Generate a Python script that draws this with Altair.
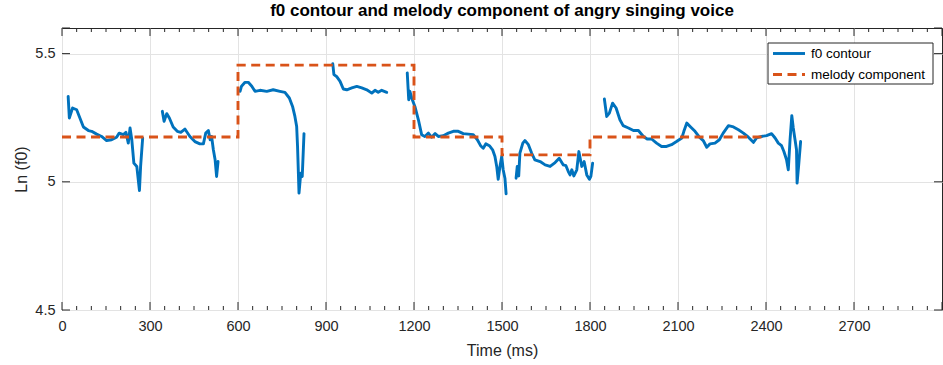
import altair as alt
import pandas as pd

# f0 contour, one list pair per voiced segment (time in ms, ln f0)
seg1_t = [21, 25, 36, 50, 59, 73, 90, 101, 118, 135, 152, 169, 186, 195, 209, 218, 226, 232, 238, 245, 255, 264, 268, 275]
seg1_v = [5.333, 5.249, 5.288, 5.281, 5.255, 5.214, 5.200, 5.197, 5.186, 5.177, 5.161, 5.164, 5.174, 5.190, 5.184, 5.193,
          5.151, 5.210, 5.164, 5.073, 5.060, 4.966, 5.060, 5.171]
seg2_t = [342, 348, 357, 366, 379, 393, 405, 419, 436, 453, 470, 482, 490, 499, 505, 510, 516, 522, 527, 532]
seg2_v = [5.275, 5.236, 5.266, 5.249, 5.214, 5.197, 5.193, 5.206, 5.177, 5.157, 5.148, 5.148, 5.190, 5.200, 5.164, 5.177,
          5.125, 5.086, 5.021, 5.079]
seg3_t = [607, 612, 624, 635, 647, 658, 675, 698, 720, 743, 760, 775, 786, 794, 800, 803, 808, 814, 819, 825]
seg3_v = [5.353, 5.373, 5.388, 5.388, 5.373, 5.353, 5.357, 5.353, 5.359, 5.353, 5.349, 5.327, 5.294, 5.255, 5.216, 5.138,
          4.956, 5.034, 5.021, 5.188]
seg4_t = [923, 927, 936, 948, 959, 971, 988, 1005, 1022, 1039, 1056, 1067, 1078, 1090, 1107]
seg4_v = [5.461, 5.418, 5.411, 5.392, 5.362, 5.359, 5.366, 5.372, 5.366, 5.359, 5.346, 5.357, 5.349, 5.357, 5.349]
seg5_t = [1177, 1182, 1186, 1192, 1203, 1215, 1226, 1237, 1249, 1260, 1272, 1283, 1300, 1317, 1334, 1351, 1368, 1385,
          1402, 1416, 1427, 1436, 1445, 1457, 1468, 1476, 1482, 1487, 1493, 1499, 1504, 1510, 1514]
seg5_v = [5.425, 5.320, 5.353, 5.327, 5.294, 5.242, 5.184, 5.177, 5.190, 5.174, 5.188, 5.177, 5.180, 5.190, 5.197, 5.197,
          5.188, 5.186, 5.184, 5.164, 5.141, 5.131, 5.148, 5.141, 5.125, 5.099, 5.060, 5.010, 5.060, 5.099, 5.047, 5.014, 4.953]
seg6_t = [1548, 1552, 1557, 1561, 1571, 1578, 1590, 1601, 1612, 1630, 1647, 1664, 1681, 1695, 1709, 1718, 1726, 1732,
          1738, 1745, 1755, 1762, 1772, 1780, 1789, 1798, 1803, 1809]
seg6_v = [5.014, 5.060, 5.023, 5.112, 5.151, 5.161, 5.145, 5.112, 5.086, 5.079, 5.066, 5.060, 5.075, 5.092, 5.066, 5.063,
          5.040, 5.027, 5.047, 5.023, 5.047, 5.118, 5.060, 5.079, 5.027, 5.010, 5.021, 5.073]
seg7_t = [1849, 1857, 1866, 1877, 1889, 1902, 1913, 1931, 1948, 1965, 1982, 1995, 2010, 2027, 2044, 2061, 2078, 2095,
          2113, 2120, 2130, 2143, 2158, 2173, 2186, 2198, 2209, 2226, 2241, 2254, 2272, 2289, 2306, 2323, 2340, 2357,
          2368, 2385, 2402, 2419, 2431, 2442, 2453, 2461, 2470, 2476, 2482, 2488, 2493, 2499, 2504, 2506, 2512, 2518]
seg7_v = [5.323, 5.255, 5.268, 5.307, 5.288, 5.242, 5.219, 5.210, 5.200, 5.200, 5.177, 5.167, 5.167, 5.151, 5.138, 5.138,
          5.145, 5.157, 5.171, 5.197, 5.229, 5.214, 5.197, 5.174, 5.161, 5.135, 5.148, 5.151, 5.164, 5.190, 5.219, 5.214,
          5.203, 5.190, 5.174, 5.154, 5.171, 5.177, 5.180, 5.188, 5.171, 5.151, 5.141, 5.118, 5.086, 5.047, 5.164, 5.258,
          5.210, 5.164, 5.125, 4.995, 5.073, 5.157]

# melody component: piecewise-constant notes
note_start = [0, 600, 1200, 1500, 1800]
note_end = [600, 1200, 1500, 1800, 2400]
note_value = [5.175, 5.455, 5.175, 5.105, 5.175]

x_ticks = [0, 300, 600, 900, 1200, 1500, 1800, 2100, 2400, 2700]
x_minor = list(range(0, 3001, 50))
y_ticks = [4.5, 5.0, 5.5]

TITLE = "f0 contour and melody component of angry singing voice"
FONT = "Liberation Sans"
BLUE = "#0072BD"
ORANGE = "#D95319"
AX = "#262626"
W, H = 880, 282
LW = 2.9
DASH = [9, 5.5]

segments = [(seg1_t, seg1_v), (seg2_t, seg2_v), (seg3_t, seg3_v), (seg4_t, seg4_v),
            (seg5_t, seg5_v), (seg6_t, seg6_v), (seg7_t, seg7_v)]
rows = []
for k, (ts, vs) in enumerate(segments):
    for i, (t, v) in enumerate(zip(ts, vs)):
        rows.append({"t": t, "v": v, "seg": k, "i": i})
f0_df = pd.DataFrame(rows)

mel_rows = []
for s, e, v in zip(note_start, note_end, note_value):
    mel_rows.append({"t": s, "v": v})
    mel_rows.append({"t": e, "v": v})
mel_df = pd.DataFrame(mel_rows)
mel_df["i"] = range(len(mel_df))

xscale = alt.Scale(domain=[0, 3000], nice=False, zero=False)
yscale = alt.Scale(domain=[4.5, 5.6], nice=False, zero=False)

xaxis = alt.Axis(values=x_ticks, format="d", grid=True, gridColor="#e3e3e3", ticks=False, domain=False,
                 labelFlush=False, labelFont=FONT, labelFontSize=14.5, labelColor=AX, labelPadding=9,
                 title="Time (ms)", titleFont=FONT, titleFontSize=16, titleFontWeight="normal",
                 titleColor=AX, titlePadding=10)
yaxis = alt.Axis(values=y_ticks, format="~g", grid=True, gridColor="#e3e3e3", ticks=False, domain=False,
                 labelFlush=False, labelFont=FONT, labelFontSize=14.5, labelColor=AX, labelPadding=7,
                 title="Ln (f0)", titleFont=FONT, titleFontSize=16, titleFontWeight="normal",
                 titleColor=AX, titlePadding=5)

f0_line = alt.Chart(f0_df).mark_line(color=BLUE, strokeWidth=LW, strokeJoin="round", strokeCap="round").encode(
    x=alt.X("t:Q", scale=xscale, axis=xaxis),
    y=alt.Y("v:Q", scale=yscale, axis=yaxis),
    detail="seg:N",
    order="i:Q",
)

mel_line = alt.Chart(mel_df).mark_line(color=ORANGE, strokeWidth=LW, strokeDash=DASH).encode(
    x=alt.X("t:Q", scale=xscale),
    y=alt.Y("v:Q", scale=yscale),
    order="i:Q",
)

# inward-pointing tick marks on all four sides of the box
major_df = pd.DataFrame({"t": x_ticks + [3000]})
minor_df = pd.DataFrame({"t": [m for m in x_minor if m % 300 != 0]})
ytick_df = pd.DataFrame({"v": y_ticks + [5.6]})

def xticks(df, length):
    bottom = alt.Chart(df).mark_rule(color=AX, strokeWidth=1).encode(
        x=alt.X("t:Q", scale=xscale), y=alt.value(H), y2=alt.value(H - length))
    top = alt.Chart(df).mark_rule(color=AX, strokeWidth=1).encode(
        x=alt.X("t:Q", scale=xscale), y=alt.value(0), y2=alt.value(length))
    return [bottom, top]

left_ticks = alt.Chart(ytick_df).mark_rule(color=AX, strokeWidth=1).encode(
    y=alt.Y("v:Q", scale=yscale), x=alt.value(0), x2=alt.value(8))
right_ticks = alt.Chart(ytick_df).mark_rule(color=AX, strokeWidth=1).encode(
    y=alt.Y("v:Q", scale=yscale), x=alt.value(W), x2=alt.value(W - 8))

# legend box
one = pd.DataFrame({"k": [0]})
lx0, lx1, ly0, ly1 = 706, 871, 15, 56
leg_box = alt.Chart(one).mark_rect(fill="white", stroke=AX, strokeWidth=1).encode(
    x=alt.value(lx0), x2=alt.value(lx1), y=alt.value(ly0), y2=alt.value(ly1))
leg_l1 = alt.Chart(one).mark_rule(color=BLUE, strokeWidth=LW).encode(
    x=alt.value(711), x2=alt.value(743), y=alt.value(25.5))
leg_l2 = alt.Chart(one).mark_rule(color=ORANGE, strokeWidth=LW, strokeDash=DASH).encode(
    x=alt.value(711), x2=alt.value(743), y=alt.value(46.5))
leg_t1 = alt.Chart(one).mark_text(align="left", baseline="middle", font=FONT, fontSize=13.5, color="black").encode(
    x=alt.value(749), y=alt.value(25.5), text=alt.value("f0 contour"))
leg_t2 = alt.Chart(one).mark_text(align="left", baseline="middle", font=FONT, fontSize=13.5, color="black").encode(
    x=alt.value(749), y=alt.value(46.5), text=alt.value("melody component"))

layers = [f0_line, mel_line] + xticks(major_df, 8) + xticks(minor_df, 4) + [left_ticks, right_ticks,
          leg_box, leg_l1, leg_l2, leg_t1, leg_t2]

chart = alt.layer(*layers).properties(
    width=W, height=H,
    title=alt.TitleParams(TITLE, font=FONT, fontSize=17, fontWeight="bold", color="black",
                          anchor="middle", offset=8),
    autosize=alt.AutoSizeParams(type="none"),
    padding={"left": 62, "top": 28, "right": 1, "bottom": 55},
    background="white",
).configure_view(stroke=AX, strokeWidth=1)

chart.save("out.html", embed_options={"renderer": "svg", "actions": False})
